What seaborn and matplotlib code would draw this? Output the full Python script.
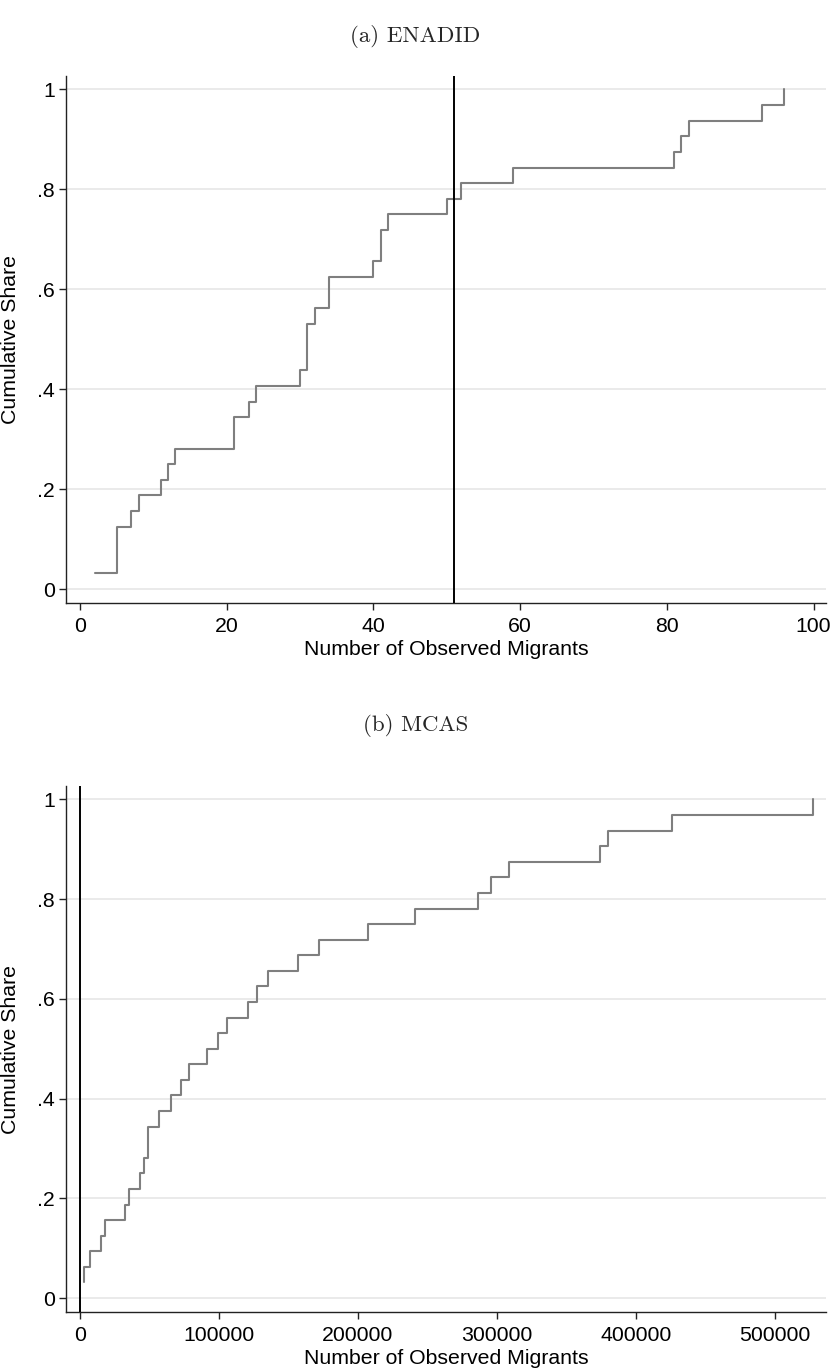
import numpy as np
import pandas as pd
import matplotlib
matplotlib.use("Agg")
import matplotlib.pyplot as plt
import seaborn as sns

enadid_migrants = [2, 5, 5, 5, 7, 8, 11, 12, 13, 21, 21, 23, 24, 30, 31, 31, 31,
                   32, 34, 34, 40, 41, 41, 42, 50, 52, 59, 81, 82, 83, 93, 96]
mcas_migrants = [2800, 3300, 7200, 15200, 18100, 32500, 35400, 42900, 45800,
                 48800, 49300, 57100, 65300, 72800, 78300, 91600, 99300, 106000,
                 121000, 127500, 135400, 156600, 171800, 207500, 241100, 286100,
                 295700, 308900, 374000, 380000, 426200, 527500]
threshold = 51
panel_titles = ["(a) ENADID", "(b) MCAS"]
ytick_vals = [0, 0.2, 0.4, 0.6, 0.8, 1.0]
ytick_labels = ["0", ".2", ".4", ".6", ".8", "1"]
xticks_a = [0, 20, 40, 60, 80, 100]
xticks_b = [0, 100000, 200000, 300000, 400000, 500000]
x_label = "Number of Observed Migrants"
y_label = "Cumulative Share"

sns.set_theme(style="white")
plt.rcParams["font.family"] = ["Liberation Sans", "DejaVu Sans"]

W, H = 831, 1371
fig = plt.figure(figsize=(W / 100, H / 100), dpi=100)

def frac_box(left, top, right, bottom):
    return [left / W, 1 - bottom / H, (right - left) / W, (bottom - top) / H]

ax_a = fig.add_axes(frac_box(66, 76, 826, 603))
ax_b = fig.add_axes(frac_box(66, 786, 826, 1312))

specs = [
    (ax_a, enadid_migrants, xticks_a, (-1.9, 101.7), panel_titles[0], 37),
    (ax_b, mcas_migrants, xticks_b, (-10000, 536700), panel_titles[1], 725),
]

for ax, vals, xt, xlim, title, ty in specs:
    xs = np.sort(np.asarray(vals, dtype=float))
    df = pd.DataFrame({"x": xs, "share": np.arange(1, len(xs) + 1) / len(xs)})
    for yv in ytick_vals:
        ax.axhline(yv, color="#e8e8e8", lw=1.3, zorder=0)
    sns.lineplot(data=df, x="x", y="share", ax=ax, drawstyle="steps-post",
                 estimator=None, sort=False, color="#7f7f7f", lw=1.5, zorder=3)
    ax.axvline(threshold, color="black", lw=1.4, zorder=4)
    ax.set_xlim(*xlim)
    ax.set_ylim(-0.028, 1.027)
    ax.set_xticks(xt)
    ax.set_xticklabels([str(v) for v in xt])
    ax.set_yticks(ytick_vals)
    ax.set_yticklabels(ytick_labels)
    ax.grid(False)
    for s in ["top", "right"]:
        ax.spines[s].set_visible(False)
    for s in ["left", "bottom"]:
        ax.spines[s].set_color("#222222")
        ax.spines[s].set_linewidth(1.0)
    ax.tick_params(axis="both", direction="out", length=5, width=1.0,
                   color="#222222", labelsize=15.3, pad=3, labelcolor="black")
    ax.tick_params(axis="x", pad=5)
    ax.tick_params(left=True, bottom=True)
    ax.set_xlabel(x_label, fontsize=15.3, labelpad=3, color="black")
    ax.set_ylabel(y_label, fontsize=15.3, color="black")
    ax.yaxis.set_label_coords(-0.060, 0.5)
    fig.text(0.5, 1 - ty / H, title, ha="center", va="center",
             fontsize=16.5, family="cmr10")

fig.savefig("out.png", dpi=100)
